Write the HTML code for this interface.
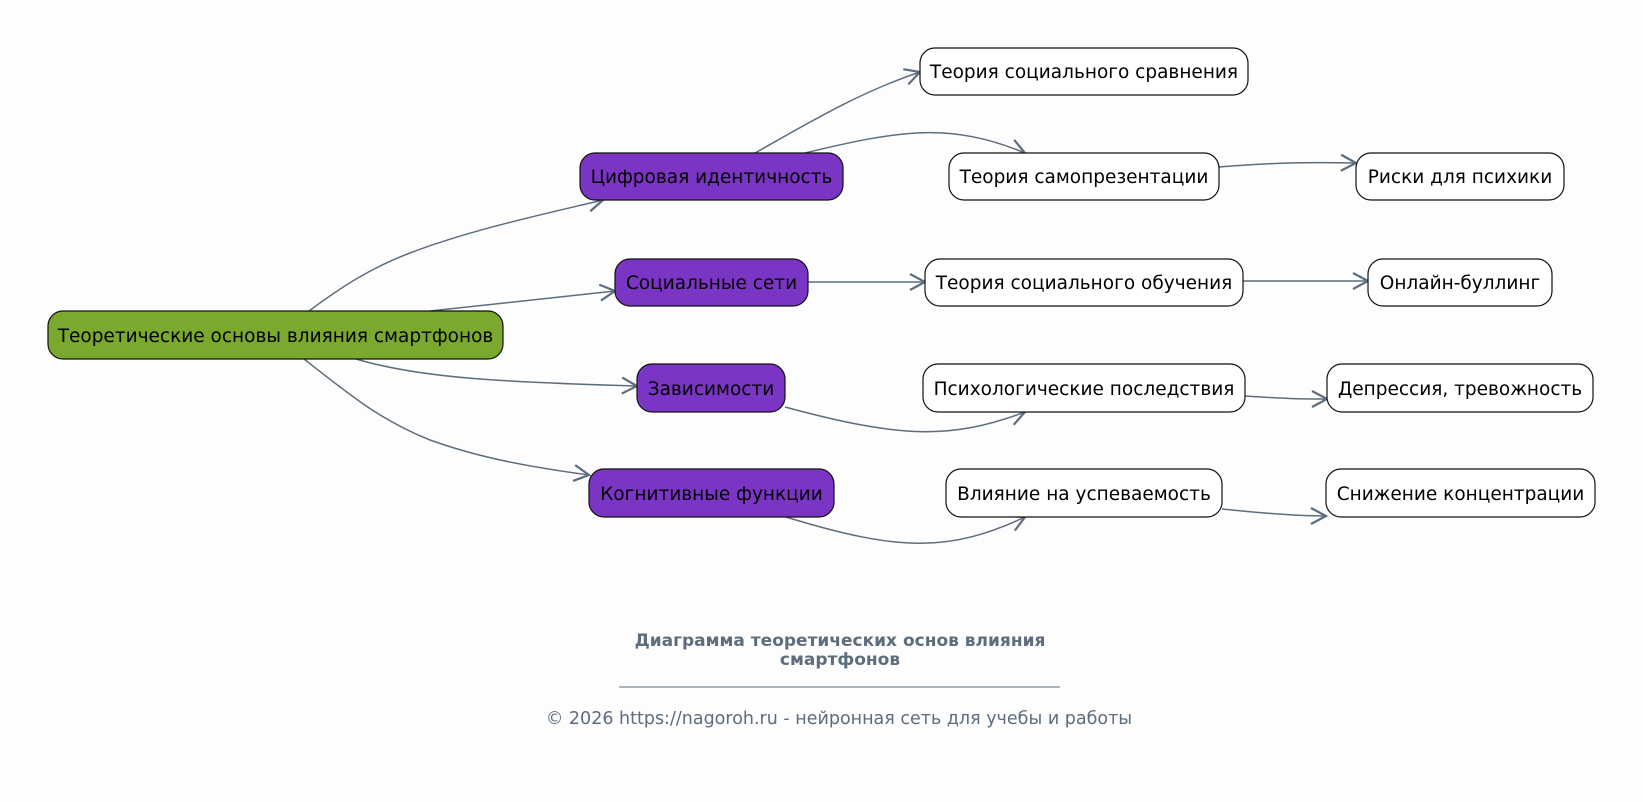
<!DOCTYPE html>
<html><head><meta charset="utf-8"><style>
html,body{margin:0;padding:0;background:#fdfdfd;}
svg{display:block;}
text{font-family:"DejaVu Sans","Liberation Sans",sans-serif;}
</style></head><body>
<svg width="1643" height="802" viewBox="0 0 1643 802" xmlns="http://www.w3.org/2000/svg">
<defs>
<marker id="a" markerWidth="22" markerHeight="22" refX="17" refY="9" orient="auto" markerUnits="userSpaceOnUse">
<path d="M2,1 L17,9 L2,17" fill="none" stroke="#5d6d7e" stroke-width="2.2"/>
</marker>
</defs>
<g fill="none" stroke="#5d6d7e" stroke-width="1.5" marker-end="url(#a)">
<path d="M309,311 C340,288 370,268 410,253 C470,230 540,215 603,200"/>
<path d="M430,311 L615,291"/>
<path d="M356,359 C420,378 500,382 637,386"/>
<path d="M304,359 C350,395 380,420 430,440 C480,458 530,467 589,475"/>
<path d="M755,153 C810,122 860,92 920,72"/>
<path d="M805,153 C900,130 950,122 1025,153"/>
<path d="M1219,167 C1270,163 1300,162 1356,163"/>
<path d="M808,282 L925,282"/>
<path d="M1243,281 L1368,281"/>
<path d="M785,407 C900,438 950,440 1025,412"/>
<path d="M1245,396 C1290,399 1300,399 1327,399"/>
<path d="M786,517 C900,552 950,552 1025,517"/>
<path d="M1222,509 C1270,514 1300,516 1326,516"/>
</g>
<g stroke="#111" stroke-width="1.2">
<rect x="48" y="311" width="455" height="48" rx="15" fill="#7aa92e"/>
<rect x="580" y="153" width="263" height="47" rx="15" fill="#7b35c4"/>
<rect x="615" y="259" width="193" height="47" rx="15" fill="#7b35c4"/>
<rect x="637" y="364" width="148" height="48" rx="15" fill="#7b35c4"/>
<rect x="589" y="469" width="245" height="48" rx="15" fill="#7b35c4"/>
<rect x="920" y="48" width="328" height="47" rx="15" fill="#fff"/>
<rect x="949" y="153" width="270" height="47" rx="15" fill="#fff"/>
<rect x="925" y="259" width="318" height="47" rx="15" fill="#fff"/>
<rect x="923" y="364" width="322" height="48" rx="15" fill="#fff"/>
<rect x="946" y="469" width="276" height="48" rx="15" fill="#fff"/>
<rect x="1356" y="153" width="208" height="47" rx="15" fill="#fff"/>
<rect x="1368" y="259" width="184" height="47" rx="15" fill="#fff"/>
<rect x="1327" y="364" width="266" height="48" rx="15" fill="#fff"/>
<rect x="1326" y="469" width="269" height="48" rx="15" fill="#fff"/>
</g>
<g font-size="18.5" fill="#000" text-anchor="middle">
<text x="275.5" y="342">Теоретические основы влияния смартфонов</text>
<text x="711.5" y="183">Цифровая идентичность</text>
<text x="711.5" y="289">Социальные сети</text>
<text x="711" y="395">Зависимости</text>
<text x="711.5" y="500">Когнитивные функции</text>
<text x="1084" y="78">Теория социального сравнения</text>
<text x="1084" y="183">Теория самопрезентации</text>
<text x="1084" y="289">Теория социального обучения</text>
<text x="1084" y="395">Психологические последствия</text>
<text x="1084" y="500">Влияние на успеваемость</text>
<text x="1460" y="183">Риски для психики</text>
<text x="1460" y="289">Онлайн-буллинг</text>
<text x="1460" y="395">Депрессия, тревожность</text>
<text x="1460.5" y="500">Снижение концентрации</text>
</g>
<g fill="#5d6d7e" text-anchor="middle">
<text x="840" y="646" font-size="17" font-weight="bold">Диаграмма теоретических основ влияния</text>
<text x="840" y="665" font-size="17" font-weight="bold">смартфонов</text>
<line x1="619" y1="687" x2="1060" y2="687" stroke="#5d6d7e" stroke-width="1"/>
<text x="839" y="724" font-size="17.5">© 2026 https://nagoroh.ru - нейронная сеть для учебы и работы</text>
</g>
</svg>
</body></html>
